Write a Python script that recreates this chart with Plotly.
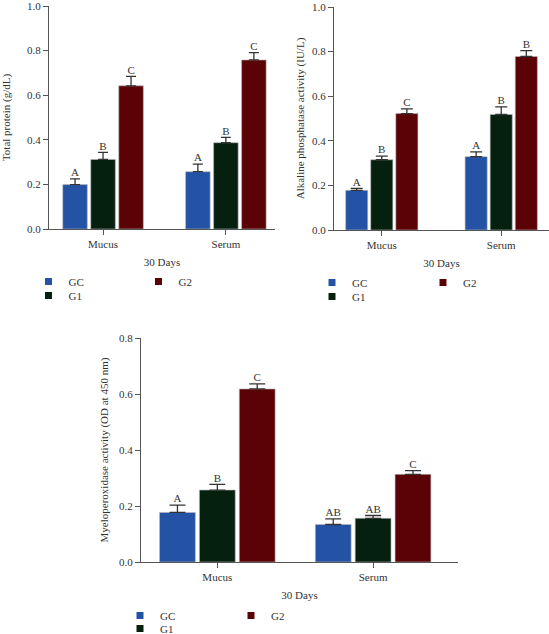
import plotly.graph_objects as go

W, H = 549, 634

categories = ["Mucus", "Serum"]
groups = ["GC", "G1", "G2"]
colors = {"GC": "#2452a4", "G1": "#06200f", "G2": "#5a0206"}

# Panel 1: Total protein
tp_vals = {"GC": [0.199, 0.257], "G1": [0.312, 0.387], "G2": [0.642, 0.758]}
tp_err = {"GC": [0.026, 0.034], "G1": [0.032, 0.024], "G2": [0.042, 0.033]}
tp_lett = {"GC": ["A", "A"], "G1": ["B", "B"], "G2": ["C", "C"]}

# Panel 2: Alkaline phosphatase
alp_vals = {"GC": [0.178, 0.329], "G1": [0.315, 0.518], "G2": [0.522, 0.778]}
alp_err = {"GC": [0.009, 0.021], "G1": [0.016, 0.034], "G2": [0.021, 0.026]}
alp_lett = {"GC": ["A", "A"], "G1": ["B", "B"], "G2": ["C", "B"]}

# Panel 3: Myeloperoxidase
mpo_vals = {"GC": [0.177, 0.134], "G1": [0.257, 0.156], "G2": [0.618, 0.313]}
mpo_err = {"GC": [0.026, 0.020], "G1": [0.020, 0.010], "G2": [0.018, 0.013]}
mpo_lett = {"GC": ["A", "AB"], "G1": ["B", "AB"], "G2": ["C", "C"]}

FONT = "Liberation Serif"
TXT = "#333333"
AX = "#555555"

panels = [
    dict(vals=tp_vals, err=tp_err, lett=tp_lett, ytitle="Total protein (g/dL)",
         xdom=(49, 275), ydom=(229, 6), yrange=[0, 1.0], xrange=[-0.44, 1.40],
         bw=0.2, pitch=0.228, cap=5, standoff=14,
         leg=[(51.5, 282), (51.5, 296), (161.5, 282)]),
    dict(vals=alp_vals, err=alp_err, lett=alp_lett, ytitle="Alkaline phosphatase activity (IU/L)",
         xdom=(334, 549), ydom=(230, 7), yrange=[0, 1.0], xrange=[-0.40, 1.40],
         bw=0.185, pitch=0.21, cap=6, standoff=5,
         leg=[(335, 283), (335, 297), (446, 283)]),
    dict(vals=mpo_vals, err=mpo_err, lett=mpo_lett, ytitle="Myeloperoxidase activity (OD at 450 nm)",
         xdom=(141, 458), ydom=(562, 338), yrange=[0, 0.8], xrange=[-0.49, 1.545],
         bw=0.23, pitch=0.256, cap=8, standoff=8,
         leg=[(143, 616), (143, 629), (254, 616)]),
]

SYM_DX, SYM_DY = 23, 15

fig = go.Figure()
layout = dict(width=W, height=H, margin=dict(l=0, r=0, t=0, b=0, autoexpand=False),
              paper_bgcolor="white", plot_bgcolor="white",
              font=dict(family=FONT, size=11, color=TXT), barmode="overlay")

leg_n = 0
for i, p in enumerate(panels):
    sfx = "" if i == 0 else str(i + 1)
    xa, ya = "x" + sfx, "y" + sfx
    for j, g in enumerate(groups):
        off = (j - 1) * p["pitch"]
        xs = [k + off for k in range(len(categories))]
        fig.add_trace(go.Bar(
            x=xs, y=p["vals"][g], width=p["bw"], xaxis=xa, yaxis=ya,
            marker=dict(color=colors[g], line=dict(color="#bbbbbb", width=0.6)),
            error_y=dict(type="data", array=p["err"][g], arrayminus=[0] * len(categories),
                         symmetric=False, color="#333333", thickness=1.3, width=p["cap"]),
            showlegend=False, hoverinfo="skip"))
        tops = [v + e for v, e in zip(p["vals"][g], p["err"][g])]
        fig.add_trace(go.Scatter(
            x=xs, y=tops, mode="text", text=p["lett"][g], textposition="top center",
            textfont=dict(family=FONT, size=11, color=TXT), xaxis=xa, yaxis=ya,
            showlegend=False, hoverinfo="skip", cliponaxis=False))
    order = ["GC", "G1", "G2"]
    for g, (cx, cy) in zip(order, p["leg"]):
        leg_n += 1
        lname = "legend" if leg_n == 1 else f"legend{leg_n}"
        fig.add_trace(go.Scatter(
            x=[None], y=[None], mode="markers", name=g, xaxis=xa, yaxis=ya,
            marker=dict(symbol="square", size=7, color=colors[g]), legend=lname))
        layout[lname] = dict(x=(cx - SYM_DX) / W, y=1 - (cy - SYM_DY) / H,
                             xanchor="left", yanchor="top", bgcolor="rgba(0,0,0,0)",
                             borderwidth=0, font=dict(family=FONT, size=11, color=TXT))

    x0, x1 = p["xdom"]
    yb, yt = p["ydom"]
    layout["xaxis" + sfx] = dict(
        domain=[x0 / W, x1 / W], anchor=ya, range=p["xrange"], automargin=False,
        tickmode="array", tickvals=list(range(len(categories))), ticktext=categories,
        showline=True, linecolor=AX, linewidth=1.3, ticks="outside", ticklen=5,
        tickcolor=AX, tickwidth=1.3, showgrid=False, zeroline=False,
        ticklabeloverflow="allow",
        title=dict(text="30 Days", standoff=8, font=dict(size=11)),
        tickfont=dict(size=11))
    layout["yaxis" + sfx] = dict(
        domain=[1 - yb / H, 1 - yt / H], anchor=xa, range=p["yrange"], automargin=False,
        dtick=0.2, tickformat=".1f", showline=True, linecolor=AX, linewidth=1.3,
        ticks="outside", ticklen=5, tickcolor=AX, tickwidth=1.3,
        showgrid=False, zeroline=False, ticklabeloverflow="allow",
        title=dict(text=p["ytitle"], standoff=p["standoff"], font=dict(size=11)),
        tickfont=dict(size=11))

fig.update_layout(**layout)
fig.write_html("out.html", config={"displayModeBar": False},
               post_script="document.body.style.margin='0';document.body.style.overflow='hidden';")
